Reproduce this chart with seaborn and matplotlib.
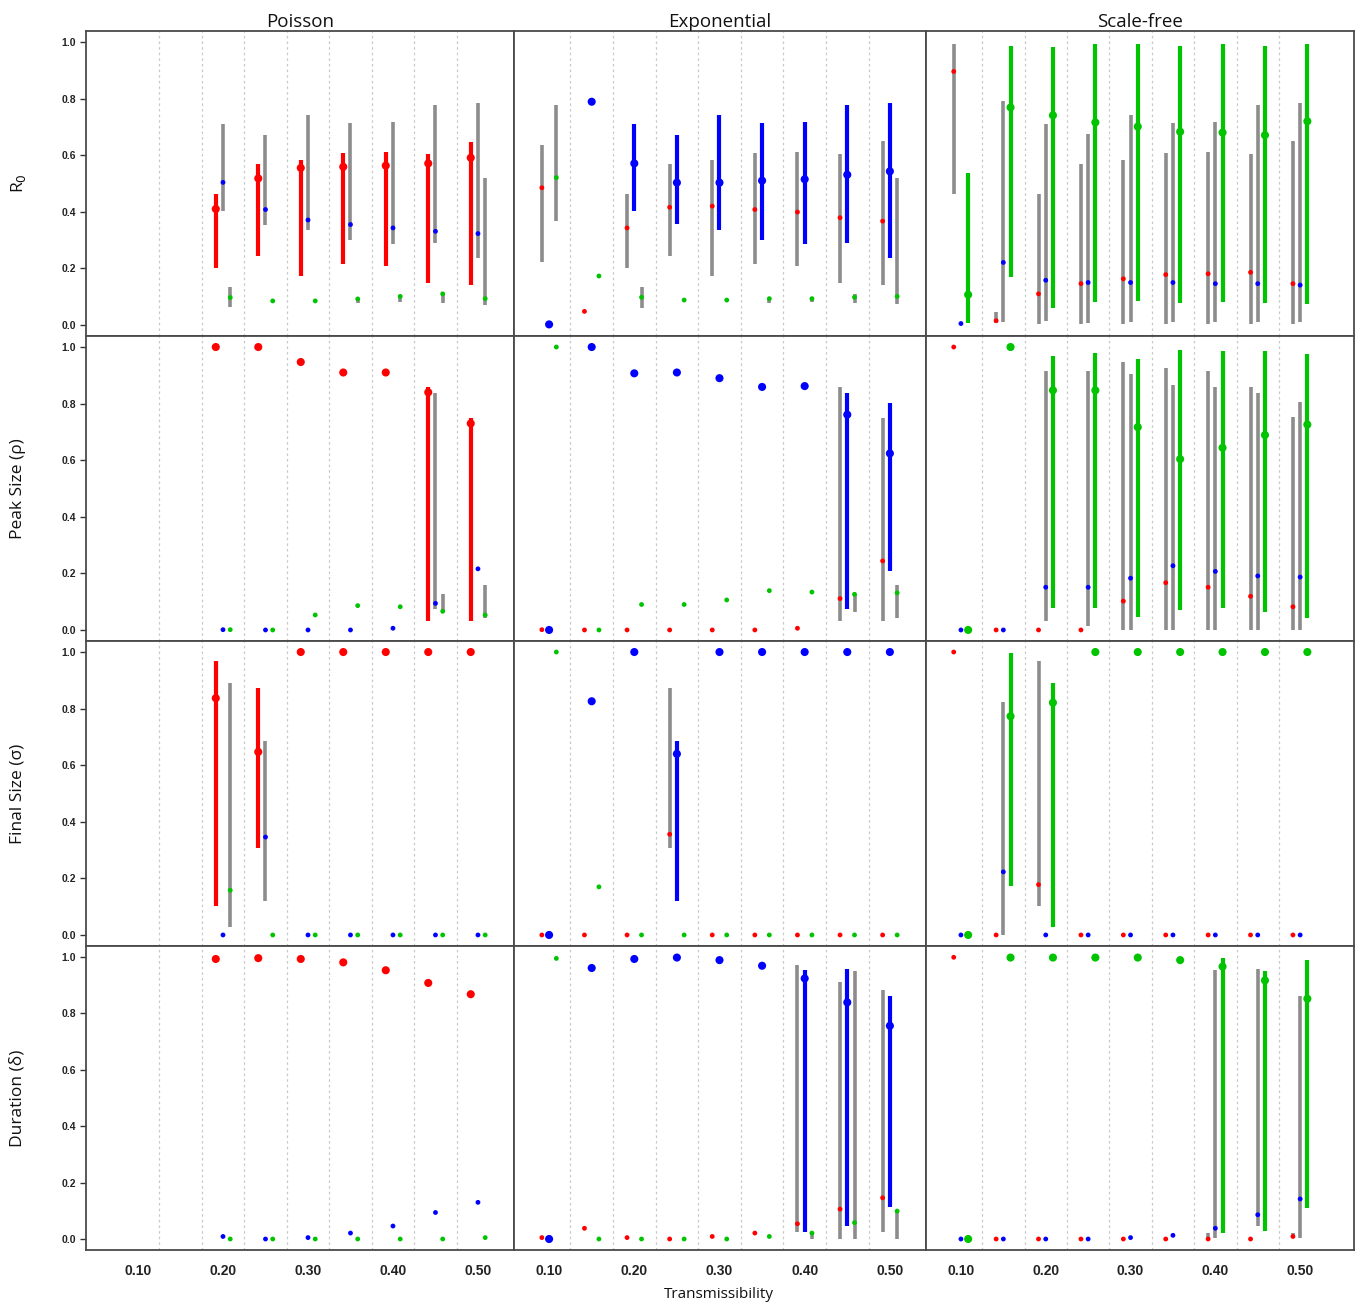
import numpy as np
import pandas as pd
import matplotlib
matplotlib.use("Agg")
import matplotlib.pyplot as plt
import seaborn as sns

N = np.nan

# ---------------- data ----------------
TRANSMISSIBILITY = [0.10, 0.15, 0.20, 0.25, 0.30, 0.35, 0.40, 0.45, 0.50]
XTICKS = [0.10, 0.20, 0.30, 0.40, 0.50]
YTICKS = [0.0, 0.2, 0.4, 0.6, 0.8, 1.0]
NETWORKS = ["Poisson", "Exponential", "Scale-free"]
METRICS = ["R$_0$", "Peak Size (\u03c1)", "Final Size (\u03c3)", "Duration (\u03b4)"]
SERIES = ["Poisson", "Exponential", "Scale-free"]

# R0
R0_POI = {"Poisson": [N, N, 0.410, 0.518, 0.555, 0.559, 0.563, 0.571, 0.591],
          "Exponential": [N, N, 0.504, 0.408, 0.371, 0.355, 0.343, 0.331, 0.323],
          "Scale-free": [N, N, 0.097, 0.085, 0.085, 0.092, 0.101, 0.110, 0.093]}
R0_POI_CI = {"Poisson": {2: (0.203, 0.462), 3: (0.243, 0.568), 4: (0.173, 0.583), 5: (0.214, 0.608),
                         6: (0.210, 0.612), 7: (0.150, 0.604), 8: (0.140, 0.648)},
             "Exponential": {2: (0.404, 0.709), 3: (0.355, 0.673), 4: (0.336, 0.741), 5: (0.299, 0.713),
                             6: (0.286, 0.717), 7: (0.291, 0.777), 8: (0.238, 0.786)},
             "Scale-free": {2: (0.062, 0.133), 5: (0.077, 0.094), 6: (0.081, 0.106), 7: (0.077, 0.114),
                            8: (0.072, 0.519)}}

R0_EXP = {"Poisson": [0.485, 0.048, 0.343, 0.416, 0.420, 0.408, 0.399, 0.379, 0.367],
          "Exponential": [0.002, 0.789, 0.571, 0.503, 0.503, 0.510, 0.515, 0.531, 0.543],
          "Scale-free": [0.521, 0.173, 0.098, 0.088, 0.088, 0.093, 0.093, 0.098, 0.101]}
R0_EXP_CI = {"Poisson": {0: (0.221, 0.637), 2: (0.203, 0.463), 3: (0.243, 0.568), 4: (0.173, 0.584),
                         5: (0.214, 0.609), 6: (0.210, 0.612), 7: (0.150, 0.604), 8: (0.140, 0.649)},
             "Exponential": {2: (0.404, 0.709), 3: (0.356, 0.673), 4: (0.336, 0.741), 5: (0.299, 0.713),
                             6: (0.286, 0.717), 7: (0.291, 0.777), 8: (0.238, 0.786)},
             "Scale-free": {0: (0.367, 0.777), 2: (0.061, 0.133), 5: (0.077, 0.097), 6: (0.080, 0.098),
                            7: (0.077, 0.108), 8: (0.073, 0.519)}}

R0_SF = {"Poisson": [0.896, 0.015, 0.110, 0.146, 0.163, 0.178, 0.181, 0.186, 0.146],
         "Exponential": [0.005, 0.221, 0.158, 0.150, 0.150, 0.150, 0.146, 0.146, 0.141],
         "Scale-free": [0.107, 0.769, 0.741, 0.716, 0.701, 0.683, 0.680, 0.671, 0.720]}
R0_SF_CI = {"Poisson": {0: (0.464, 0.993), 1: (0.006, 0.045), 2: (0.005, 0.464), 3: (0.005, 0.569),
                        4: (0.005, 0.584), 5: (0.005, 0.609), 6: (0.005, 0.612), 7: (0.005, 0.604),
                        8: (0.005, 0.649)},
            "Exponential": {1: (0.012, 0.790), 2: (0.015, 0.709), 3: (0.008, 0.674), 4: (0.012, 0.742),
                            5: (0.012, 0.714), 6: (0.012, 0.717), 7: (0.012, 0.779), 8: (0.012, 0.786)},
            "Scale-free": {0: (0.008, 0.536), 1: (0.171, 0.987), 2: (0.061, 0.983), 3: (0.081, 0.992),
                           4: (0.085, 0.992), 5: (0.077, 0.987), 6: (0.081, 0.992), 7: (0.077, 0.987),
                           8: (0.073, 0.992)}}

# Peak size
PEAK_POI = {"Poisson": [N, N, 1.000, 1.000, 0.947, 0.910, 0.910, 0.840, 0.730],
            "Exponential": [N, N, 0.001, 0.000, 0.000, 0.000, 0.006, 0.094, 0.216],
            "Scale-free": [N, N, 0.001, 0.000, 0.053, 0.086, 0.082, 0.066, 0.053]}
PEAK_POI_CI = {"Poisson": {7: (0.031, 0.859), 8: (0.031, 0.750)},
               "Exponential": {7: (0.075, 0.836)},
               "Scale-free": {7: (0.066, 0.126), 8: (0.042, 0.159)}}

PEAK_EXP = {"Poisson": [0.001, 0.000, 0.000, 0.000, 0.000, 0.000, 0.006, 0.111, 0.244],
            "Exponential": [0.000, 1.000, 0.907, 0.910, 0.890, 0.859, 0.862, 0.761, 0.624],
            "Scale-free": [1.000, 0.000, 0.090, 0.090, 0.106, 0.139, 0.134, 0.126, 0.131]}
PEAK_EXP_CI = {"Poisson": {7: (0.031, 0.859), 8: (0.031, 0.750)},
               "Exponential": {7: (0.075, 0.836), 8: (0.208, 0.803)},
               "Scale-free": {7: (0.062, 0.126), 8: (0.042, 0.159)}}

PEAK_SF = {"Poisson": [1.000, 0.000, 0.000, 0.000, 0.102, 0.167, 0.151, 0.119, 0.082],
           "Exponential": [0.000, 0.000, 0.151, 0.151, 0.183, 0.227, 0.207, 0.191, 0.187],
           "Scale-free": [0.000, 1.000, 0.847, 0.847, 0.717, 0.604, 0.644, 0.689, 0.726]}
PEAK_SF_CI = {"Poisson": {4: (0.0, 0.948), 5: (0.0, 0.925), 6: (0.0, 0.916), 7: (0.0, 0.860), 8: (0.0, 0.751)},
              "Exponential": {2: (0.031, 0.916), 3: (0.014, 0.916), 4: (0.0, 0.905), 5: (0.0, 0.865),
                              6: (0.0, 0.860), 7: (0.0, 0.836), 8: (0.0, 0.804)},
              "Scale-free": {2: (0.079, 0.968), 3: (0.079, 0.980), 4: (0.047, 0.956), 5: (0.071, 0.988),
                             6: (0.079, 0.985), 7: (0.062, 0.985), 8: (0.042, 0.976)}}

# Final size
FINAL_POI = {"Poisson": [N, N, 0.837, 0.647, 1.0, 1.0, 1.0, 1.0, 1.0],
             "Exponential": [N, N, 0.0, 0.346, 0.0, 0.0, 0.0, 0.0, 0.0],
             "Scale-free": [N, N, 0.158, 0.0, 0.0, 0.0, 0.0, 0.0, 0.0]}
FINAL_POI_CI = {"Poisson": {2: (0.101, 0.967), 3: (0.306, 0.874)},
                "Exponential": {3: (0.121, 0.686)},
                "Scale-free": {2: (0.028, 0.890)}}

FINAL_EXP = {"Poisson": [0.0, 0.0, 0.0, 0.356, 0.0, 0.0, 0.0, 0.0, 0.0],
             "Exponential": [0.0, 0.826, 1.0, 0.640, 1.0, 1.0, 1.0, 1.0, 1.0],
             "Scale-free": [1.0, 0.170, 0.0, 0.0, 0.0, 0.0, 0.0, 0.0, 0.0]}
FINAL_EXP_CI = {"Poisson": {3: (0.306, 0.874)},
                "Exponential": {3: (0.121, 0.686)},
                "Scale-free": {}}

FINAL_SF = {"Poisson": [1.0, 0.0, 0.178, 0.0, 0.0, 0.0, 0.0, 0.0, 0.0],
            "Exponential": [0.0, 0.223, 0.0, 0.0, 0.0, 0.0, 0.0, 0.0, 0.0],
            "Scale-free": [0.0, 0.773, 0.821, 1.0, 1.0, 1.0, 1.0, 1.0, 1.0]}
FINAL_SF_CI = {"Poisson": {2: (0.101, 0.967)},
               "Exponential": {1: (0.0, 0.822)},
               "Scale-free": {1: (0.173, 0.995), 2: (0.028, 0.890)}}

# Duration
DUR_POI = {"Poisson": [N, N, 0.993, 0.996, 0.993, 0.981, 0.953, 0.908, 0.868],
           "Exponential": [N, N, 0.009, 0.0, 0.005, 0.021, 0.046, 0.094, 0.130],
           "Scale-free": [N, N, 0.0, 0.0, 0.0, 0.0, 0.0, 0.0, 0.005]}
DUR_POI_CI = {"Poisson": {}, "Exponential": {}, "Scale-free": {}}

DUR_EXP = {"Poisson": [0.005, 0.038, 0.005, 0.0, 0.009, 0.021, 0.054, 0.106, 0.146],
           "Exponential": [0.0, 0.961, 0.993, 0.998, 0.989, 0.969, 0.924, 0.839, 0.756],
           "Scale-free": [0.995, 0.0, 0.0, 0.0, 0.0, 0.009, 0.021, 0.058, 0.099]}
DUR_EXP_CI = {"Poisson": {6: (0.024, 0.970), 7: (0.0, 0.910), 8: (0.026, 0.883)},
              "Exponential": {6: (0.026, 0.954), 7: (0.045, 0.959), 8: (0.115, 0.862)},
              "Scale-free": {6: (0.0, 0.026), 7: (0.0, 0.950), 8: (0.0, 0.099)}}

DUR_SF = {"Poisson": [0.999, 0.0, 0.0, 0.0, 0.0, 0.0, 0.0, 0.0, 0.009],
          "Exponential": [0.0, 0.0, 0.0, 0.0, 0.005, 0.013, 0.038, 0.086, 0.142],
          "Scale-free": [0.0, 0.998, 0.998, 0.998, 0.998, 0.989, 0.966, 0.917, 0.852]}
DUR_SF_CI = {"Poisson": {6: (0.0, 0.021), 8: (0.005, 0.021)},
             "Exponential": {6: (0.005, 0.954), 7: (0.045, 0.959), 8: (0.005, 0.862)},
             "Scale-free": {6: (0.021, 0.995), 7: (0.030, 0.950), 8: (0.110, 0.990)}}

PANELS = [[(R0_POI, R0_POI_CI), (R0_EXP, R0_EXP_CI), (R0_SF, R0_SF_CI)],
          [(PEAK_POI, PEAK_POI_CI), (PEAK_EXP, PEAK_EXP_CI), (PEAK_SF, PEAK_SF_CI)],
          [(FINAL_POI, FINAL_POI_CI), (FINAL_EXP, FINAL_EXP_CI), (FINAL_SF, FINAL_SF_CI)],
          [(DUR_POI, DUR_POI_CI), (DUR_EXP, DUR_EXP_CI), (DUR_SF, DUR_SF_CI)]]

# ---------------- style / layout ----------------
COLORS = {"Poisson": "#ff0000", "Exponential": "#0000ff", "Scale-free": "#00c400"}
GRAY = "#8c8c8c"
DODGE = {"Poisson": -0.0085, "Exponential": 0.0, "Scale-free": 0.0085}
W, H = 1357, 1306
COL_PX = [(86, 514), (514, 926), (926, 1354)]
ROW_PX = [(31, 336), (336, 641), (641, 946), (946, 1250)]
XLIMS = [(0.0388, 0.5424), (0.0588, 0.5424), (0.0588, 0.5635)]
YLIM = (-0.039, 1.039)

sns.set_theme(style="white")
plt.rcParams["font.family"] = ["Open Sans", "DejaVu Sans"]

fig = plt.figure(figsize=(W / 100, H / 100), dpi=100)

for r in range(4):
    for c in range(3):
        x0, x1 = COL_PX[c]
        y0, y1 = ROW_PX[r]
        ax = fig.add_axes([x0 / W, 1 - y1 / H, (x1 - x0) / W, (y1 - y0) / H])
        vals, cis = PANELS[r][c]
        dominant = NETWORKS[c]

        # grid separators between groups
        for g in np.arange(0.125, 0.5, 0.05):
            ax.axvline(g, color="#c8c8c8", lw=0.9, ls=(0, (2, 2.5)), zorder=0)

        # intervals
        for s in SERIES:
            for gi, (lo, hi) in cis[s].items():
                xx = TRANSMISSIBILITY[gi] + DODGE[s]
                if s == dominant:
                    ax.vlines(xx, lo, hi, color=COLORS[s], lw=3.0, zorder=2)
                else:
                    ax.vlines(xx, lo, hi, color=GRAY, lw=2.6, zorder=1)

        # points
        rows = []
        for s in SERIES:
            for t, v in zip(TRANSMISSIBILITY, vals[s]):
                if not np.isnan(v):
                    rows.append({"x": t + DODGE[s], "value": v, "series": s,
                                 "kind": "big" if s == dominant else "small"})
        df = pd.DataFrame(rows)
        sns.scatterplot(data=df, x="x", y="value", hue="series", palette=COLORS,
                        size="kind", sizes={"big": 34, "small": 12}, linewidth=0,
                        legend=False, ax=ax, zorder=3)

        ax.set_xlim(*XLIMS[c])
        ax.set_ylim(*YLIM)
        ax.set_xlabel("")
        ax.set_ylabel("")
        ax.set_xticks(XTICKS)
        ax.set_yticks(YTICKS)
        for sp in ax.spines.values():
            sp.set_color("#4a4a4a")
            sp.set_linewidth(1.3)

        if c == 0:
            ax.set_yticklabels([f"{v:.1f}" for v in YTICKS], fontsize=7.5, fontweight="bold",
                               family="Liberation Sans", color="#222222")
            ax.tick_params(axis="y", length=4, width=1, color="#333333", pad=3, left=True)
        else:
            ax.set_yticklabels([])
            ax.tick_params(axis="y", length=0)

        if r == 3:
            ax.set_xticklabels([f"{v:.2f}" for v in XTICKS], fontsize=10, fontweight="bold",
                               family="Liberation Sans", color="#222222")
            ax.tick_params(axis="x", length=0, pad=10)
        else:
            ax.set_xticklabels([])
            ax.tick_params(axis="x", length=0)

        if r == 0:
            ax.set_title(NETWORKS[c], fontsize=13.5, pad=3, color="#111111")

for r in range(4):
    y0, y1 = ROW_PX[r]
    fig.text(18 / W, 1 - (y0 + y1) / 2 / H, METRICS[r], rotation=90, ha="center", va="center",
             fontsize=12.5, color="#111111")

fig.text(719 / W, 1 - 1294 / H, "Transmissibility", ha="center", va="center", fontsize=11,
         color="#111111")

fig.savefig("out.png", dpi=100)
